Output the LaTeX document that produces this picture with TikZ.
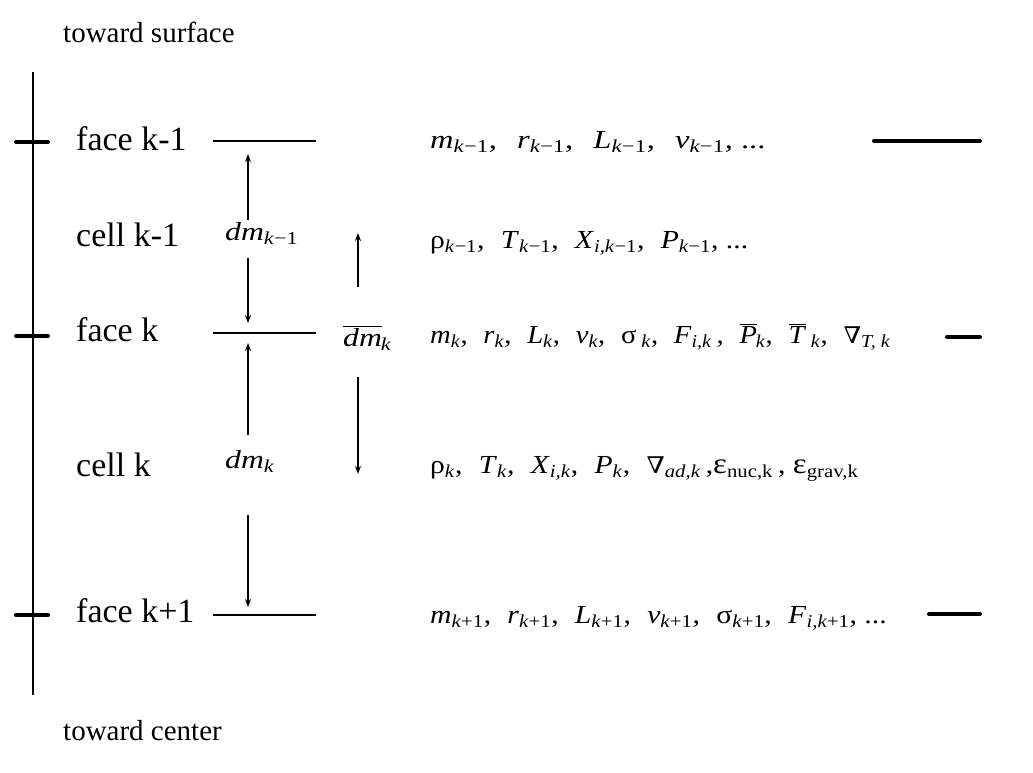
\documentclass[tikz,border=0pt]{standalone}
\usepackage{fontspec}
\setmainfont{Liberation Serif}
\newfontfamily\dvs{DejaVu Serif}
\usetikzlibrary{arrows.meta}
\newcommand\sbi[1]{\textsubscript{\textit{#1}}}
\newcommand\km{\textsubscript{\textit{k}−1}}
\newcommand\kp{\textsubscript{\textit{k}+1}}
\newcommand\nab{{\dvs\fontsize{23}{26}\selectfont ∇}}
\newcommand\ovl[1]{\(\overline{\hbox{#1}}\)}
\newcommand\gap{\hspace{0.55em}}
\newcommand\sx[2]{\scalebox{#1}[1]{#2}}
\begin{document}
\begin{tikzpicture}[x=1pt,y=-1pt,
  lbl/.style={anchor=base west,inner sep=0pt,font=\fontsize{34}{40}\selectfont},
  toward/.style={anchor=base west,inner sep=0pt,font=\fontsize{29}{34}\selectfont},
  row/.style={anchor=base west,inner sep=0pt,font=\fontsize{26}{30}\selectfont},
  dmlbl/.style={anchor=base west,inner sep=0pt,font=\fontsize{26}{30}\selectfont},
  faceline/.style={line width=2.5pt},
  tick/.style={line width=4pt,line cap=round},
  marrow/.style={line width=1.4pt,-{Stealth[length=8pt,width=6pt]}}]
\useasboundingbox (0,0) rectangle (1033,773);
% axis
\coordinate (axtop) at (33,72);
\coordinate (axbot) at (33,695);
\draw[line width=2pt] (axtop) -- (axbot);
\coordinate (t1a) at (16,142); \coordinate (t1b) at (48,142);
\coordinate (t2a) at (16,336); \coordinate (t2b) at (48,336);
\coordinate (t3a) at (16,615); \coordinate (t3b) at (48,615);
\draw[tick] (t1a) -- (t1b);
\draw[tick] (t2a) -- (t2b);
\draw[tick] (t3a) -- (t3b);
\node[toward] (ts) at (63,43) {toward surface};
\node[toward] (tc) at (63,740) {toward center};
% labels
\node[lbl] (f1) at (76,150) {face k-1};
\node[lbl] (c1) at (76,246) {cell k-1};
\node[lbl] (f2) at (76,341) {face k};
\node[lbl] (c2) at (76,476) {cell k};
\node[lbl] (f3) at (76,622) {face k+1};
% face lines
\coordinate (l1a) at (213,141); \coordinate (l1b) at (316,141);
\coordinate (l2a) at (213,333); \coordinate (l2b) at (316,333);
\coordinate (l3a) at (213,615); \coordinate (l3b) at (316,615);
\draw[faceline] (l1a) -- (l1b);
\draw[faceline] (l2a) -- (l2b);
\draw[faceline] (l3a) -- (l3b);
% dm labels
\node[dmlbl] (dm1) at (225,240) {\sx{1.22}{\textit{dm}\km}};
\node[dmlbl] (dm2) at (225,468) {\sx{1.22}{\textit{dm}\sbi{k}}};
\node[dmlbl] (dmb) at (343,346) {\sx{1.22}{\ovl{\textit{dm}}\kern-1pt\sbi{k}}};
% arrows
\coordinate (a1s) at (248,220); \coordinate (a1e) at (248,154);
\coordinate (a2s) at (248,258); \coordinate (a2e) at (248,323);
\coordinate (a3s) at (248,435); \coordinate (a3e) at (248,343);
\coordinate (a4s) at (248,515); \coordinate (a4e) at (248,607);
\coordinate (b1s) at (358,287); \coordinate (b1e) at (358,233);
\coordinate (b2s) at (358,377); \coordinate (b2e) at (358,474);
\draw[marrow] (a1s) -- (a1e);
\draw[marrow] (a2s) -- (a2e);
\draw[marrow] (a3s) -- (a3e);
\draw[marrow] (a4s) -- (a4e);
\draw[marrow] (b1s) -- (b1e);
\draw[marrow] (b2s) -- (b2e);
% right column
\node[row] (r1) at (430,148) {\sx{1.25}{\textit{m}\km,\hspace{0.62em}\textit{r}\km,\hspace{0.62em}\textit{L}\km,\hspace{0.62em}\textit{v}\km, ...}};
\node[row] (r2) at (430,248) {\sx{1.14}{ρ\km,\gap \textit{T}\km,\gap \textit{X}\textsubscript{\textit{i,k}−1},\gap \textit{P}\km, ...}};
\node[row] (r3) at (430,343) {\sx{1.1}{\textit{m}\sbi{k},\gap \textit{r}\sbi{k},\gap \textit{L}\sbi{k},\gap \textit{v}\sbi{k},\gap σ\,\sbi{k},\gap \textit{F}\sbi{i,k}\,,\gap \ovl{\textit{P}}\kern-1pt\sbi{k},\gap \ovl{\textit{T}}\,\sbi{k},\gap \nab\sbi{T, k}}};
\node[row] (r4) at (430,473) {\sx{1.14}{ρ\sbi{k},\gap \textit{T}\sbi{k},\gap \textit{X}\sbi{i,k},\gap \textit{P}\sbi{k},\gap \nab\sbi{ad,k}\,,{\fontsize{29}{30}\selectfont ε}\textsubscript{nuc,k}\,, {\fontsize{29}{30}\selectfont ε}\textsubscript{grav,k}}};
\node[row] (r5) at (430,623) {\sx{1.14}{\textit{m}\kp,\gap \textit{r}\kp,\gap \textit{L}\kp,\gap \textit{v}\kp,\gap σ\kp,\gap \textit{F}\textsubscript{\textit{i,k}+1}, ...}};
% right thick lines
\coordinate (q1a) at (874,141); \coordinate (q1b) at (980,141);
\coordinate (q2a) at (947,337); \coordinate (q2b) at (980,337);
\coordinate (q3a) at (929,614); \coordinate (q3b) at (980,614);
\draw[tick] (q1a) -- (q1b);
\draw[tick] (q2a) -- (q2b);
\draw[tick] (q3a) -- (q3b);
\end{tikzpicture}
\end{document}
